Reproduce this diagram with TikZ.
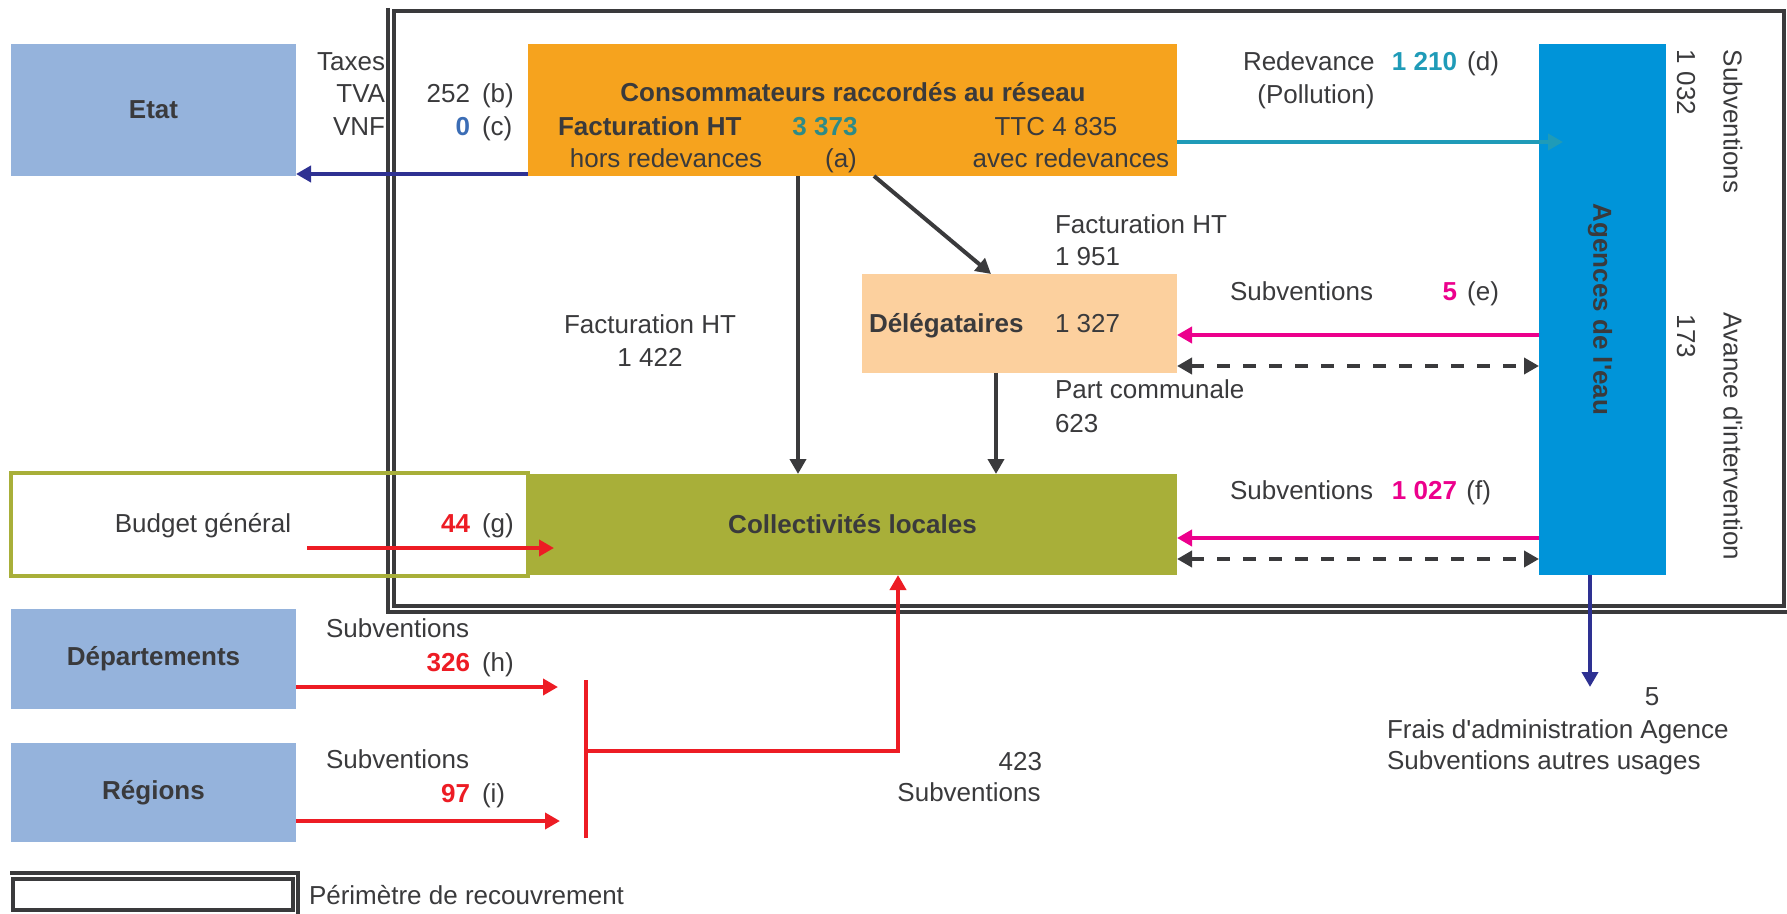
\documentclass[tikz,border=0pt]{standalone}
\usepackage{fontspec}
\setmainfont{Liberation Sans}
\usetikzlibrary{arrows.meta,calc}
\definecolor{txt}{HTML}{3A3A3C}
\definecolor{lblue}{HTML}{95B3DC}
\definecolor{orng}{HTML}{F6A31E}
\definecolor{peach}{HTML}{FCD09E}
\definecolor{olive}{HTML}{A8AF39}
\definecolor{agblue}{HTML}{0094D9}
\definecolor{navy}{HTML}{2E3192}
\definecolor{tealb}{HTML}{1F9BB8}
\definecolor{tealg}{HTML}{2E8B87}
\definecolor{pinkc}{HTML}{EC008C}
\definecolor{rred}{HTML}{ED1C24}
\definecolor{nblue}{HTML}{3B6DB5}
\newcommand{\apo}{\textquotesingle}
\begin{document}
\begin{tikzpicture}[x=0.5pt,y=-0.5pt,
  font=\fontsize{13}{15.6}\selectfont,
  every node/.style={inner sep=0pt, outer sep=0pt, text=txt},
  t/.style={anchor=base west}, tr/.style={anchor=base east}, tc/.style={anchor=base},
  vtxt/.style={rotate=-90, anchor=west},
  arr/.style={line width=2pt, -{Triangle[length=7.5pt,width=8pt]}},
  darr/.style={draw=txt, line width=2pt, dash pattern=on 6.5pt off 6.5pt,
     {Triangle[length=7.5pt,width=8pt]}-{Triangle[length=7.5pt,width=8pt]}},
  framel/.style={draw=txt, line width=1.8pt}
]
\useasboundingbox (0,0) rectangle (1787,914);

% frame (perimetre de recouvrement)
\draw[framel] (394,11) rectangle (1784,606);
\draw[framel] (388,8) -- (388,612) -- (1787,612);

% boxes
\node[draw=olive, line width=1.8pt, minimum width=258.5pt, minimum height=51.5pt] (budget) at (269.5,524.5) {};
\node[fill=lblue, minimum width=142.5pt, minimum height=66pt] (etat) at (153.5,110) {\textbf{Etat}};
\node[fill=orng, minimum width=324.5pt, minimum height=66pt] (cons) at (852.5,110) {};
\node[fill=peach, minimum width=157.5pt, minimum height=49.5pt] (deleg) at (1019.5,323.5) {};
\node[fill=olive, minimum width=324.5pt, minimum height=50.5pt] (coll) at (852.5,524.5) {\textbf{Collectivités locales}};
\node[fill=agblue, minimum width=63.5pt, minimum height=265.5pt] (agences) at (1602.5,309.5) {};
\node[rotate=-90] (agtxt) at (1600,309.5) {\textbf{Agences de l\apo eau}};
\node[fill=lblue, minimum width=142.5pt, minimum height=50pt] (dep) at (153.5,659) {\textbf{Départements}};
\node[fill=lblue, minimum width=142.5pt, minimum height=49.5pt] (reg) at (153.5,792.5) {\textbf{Régions}};

% legend
\node[draw=txt, line width=1.8pt, minimum width=140pt, minimum height=15.5pt] (legend) at (153,894.5) {};
\draw[framel] (10,873) -- (298,873) -- (298,914);
\node[t] (legtxt) at (309,904) {Périmètre de recouvrement};

% texts near Etat
\node[tr] (taxes) at (385,71) {Taxes};
\node[tr] (tva) at (385,103) {TVA};
\node[tr] (vnf) at (385,136) {VNF};
\node[tr] (n252) at (470,103) {252};
\node[t] (lb) at (482,103) {(b)};
\node[tr, text=nblue] (n0) at (470,136) {\textbf{0}};
\node[t] (lc) at (482,136) {(c)};

% consommateurs box content
\node[tc] (ctitle) at (853,102) {\textbf{Consommateurs raccordés au réseau}};
\node[t] (cfact) at (558,136) {\textbf{Facturation HT}};
\node[tc, text=tealg] (c3373) at (825,136) {\textbf{3 373}};
\node[tc] (cttc) at (1056,136) {TTC 4 835};
\node[tc] (chors) at (666,168) {hors redevances};
\node[tc] (ca) at (841,168) {(a)};
\node[tc] (cavec) at (1071,168) {avec redevances};

% redevance
\node[t] (redev) at (1243,71) {Redevance};
\node[tr, text=tealb] (n1210) at (1457,71) {\textbf{1 210}};
\node[tr] (ld) at (1499,71) {(d)};
\node[tc] (pollu) at (1316,104) {(Pollution)};

% rotated labels
\node[vtxt] (n1032) at (1686,50) {1 032};
\node[vtxt] (subv1) at (1733,50) {Subventions};
\node[vtxt] (n173) at (1686,315) {173};
\node[vtxt] (avance) at (1733,313) {Avance d\apo intervention};

% delegataires
\node[t] (fht2) at (1055,234) {Facturation HT};
\node[t] (n1951) at (1055,266) {1 951};
\node[t] (dtxt) at (869,333) {\textbf{Délégataires}};
\node[t] (n1327) at (1055,333) {1 327};
\node[t] (subve) at (1230,301) {Subventions};
\node[tr, text=pinkc] (n5e) at (1457,301) {\textbf{5}};
\node[tr] (le) at (1499,301) {(e)};
\node[tc] (fht1) at (650,334) {Facturation HT};
\node[tc] (n1422) at (650,366) {1 422};
\node[t] (partc) at (1055,399) {Part communale};
\node[t] (n623) at (1055,432) {623};
\node[t] (subvf) at (1230,499) {Subventions};
\node[tr, text=pinkc] (n1027) at (1457,499) {\textbf{1 027}};
\node[tr] (lf) at (1491,499) {(f)};

% bottom left
\node[tc] (budtxt) at (203,532) {Budget général};
\node[tr, text=rred] (n44) at (470,532) {\textbf{44}};
\node[t] (lg) at (482,532) {(g)};
\node[t] (subvh) at (326,637) {Subventions};
\node[tr, text=rred] (n326) at (470,671) {\textbf{326}};
\node[t] (lh) at (482,671) {(h)};
\node[t] (subvi) at (326,768) {Subventions};
\node[tr, text=rred] (n97) at (470,802) {\textbf{97}};
\node[t] (li) at (482,802) {(i)};
\node[tr] (n423) at (1042,770) {423};
\node[tc] (subv423) at (969,801) {Subventions};

% agence admin
\node[tc] (n5) at (1652,705) {5};
\node[t] (frais) at (1387,738) {Frais d\apo administration Agence};
\node[t] (autres) at (1387,769) {Subventions autres usages};

% connectors
\draw[arr, navy] ($(cons.south west)+(0,-2)$) -- ($(etat.south east)+(0,-2)$);
\draw[arr, tealb] ($(cons.north east)+(0,98)$) -- ($(agences.north west)+(24,98)$);
\draw[arr, txt] ($(cons.south west)+(270,0)$) -- ($(coll.north west)+(270,0)$);
\draw[arr, txt] ($(cons.south west)+(346,0)$) -- ($(deleg.north west)+(129,0)$);
\draw[arr, txt] ($(deleg.south west)+(134,0)$) -- ($(coll.north west)+(468,0)$);
\draw[arr, pinkc] ($(agences.north west)+(0,291)$) -- ($(deleg.north east)+(0,61)$);
\draw[darr] ($(deleg.north east)+(0,92)$) -- ($(agences.north west)+(0,322)$);
\draw[arr, pinkc] ($(agences.north west)+(0,494)$) -- ($(coll.north east)+(0,64)$);
\draw[darr] ($(coll.north east)+(0,85)$) -- ($(agences.north west)+(0,515)$);

\coordinate (gstart) at (307,548);
\draw[arr, rred] (gstart) -- ($(coll.north west)+(26,74)$);
\coordinate (hend) at (558,687);
\coordinate (iend) at (560,821);
\draw[arr, rred] ($(dep.south east)+(0,-22)$) -- (hend);
\draw[arr, rred] ($(reg.south east)+(0,-21)$) -- (iend);
\coordinate (jt) at (586,680);
\coordinate (jb) at (586,838);
\coordinate (jm) at (586,751);
\draw[rred, line width=2pt] (jt) -- (jb);
\draw[arr, rred] (jm) -| ($(coll.south west)+(370,0)$);

\coordinate (adm) at (1590,687);
\draw[arr, navy] ($(agences.south west)+(51,0)$) -- (adm);
\end{tikzpicture}
\end{document}
